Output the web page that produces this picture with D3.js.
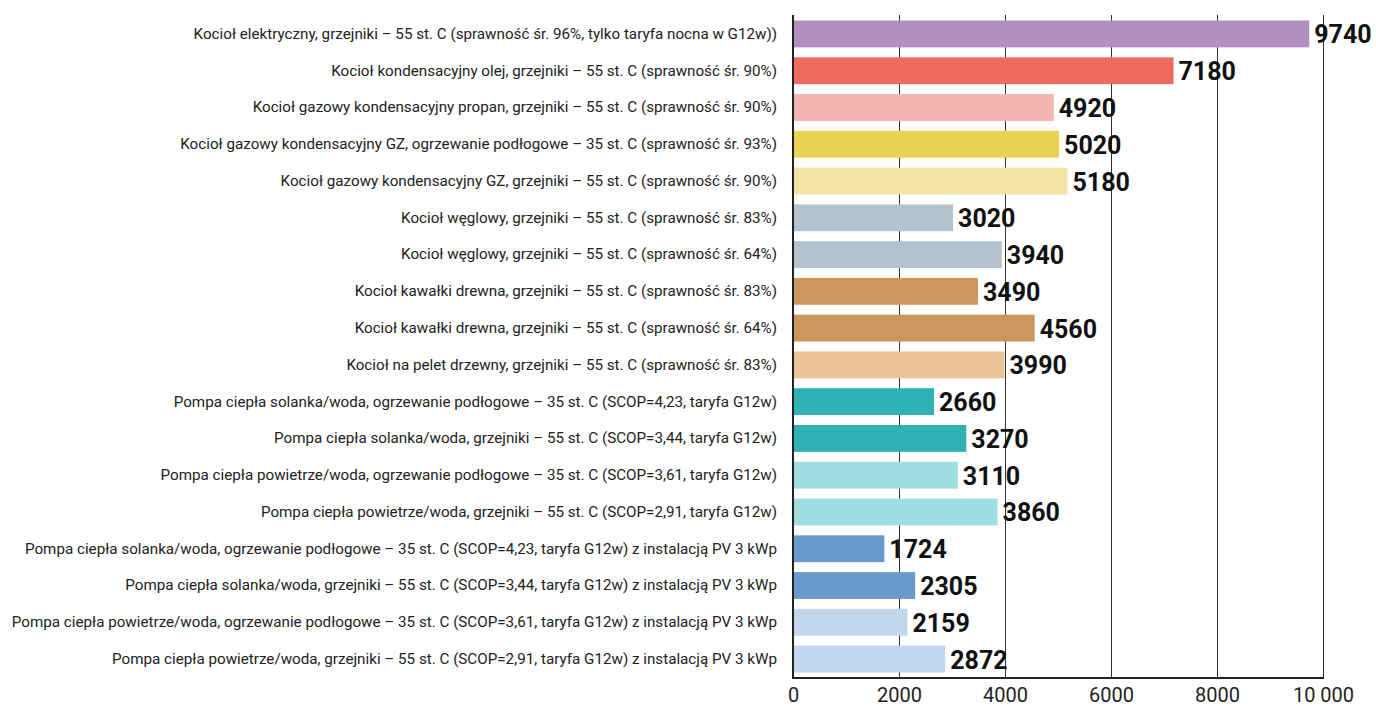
<!DOCTYPE html>
<html>
<head>
<meta charset="utf-8">
<script src="https://cdn.jsdelivr.net/npm/d3@7"></script>
<style>
  html, body { margin: 0; padding: 0; background: #fff; }
  svg { display: block; font-family: Roboto, "Noto Sans", sans-serif; }
</style>
</head>
<body>
<svg id="chart" width="1376" height="706"></svg>
<script>
// Annual heating cost by heat source (PLN)
const categories = [
  "Kocioł elektryczny, grzejniki – 55 st. C (sprawność śr. 96%, tylko taryfa nocna w G12w))",
  "Kocioł kondensacyjny olej, grzejniki – 55 st. C (sprawność śr. 90%)",
  "Kocioł gazowy kondensacyjny propan, grzejniki – 55 st. C (sprawność śr. 90%)",
  "Kocioł gazowy kondensacyjny GZ, ogrzewanie podłogowe – 35 st. C (sprawność śr. 93%)",
  "Kocioł gazowy kondensacyjny GZ, grzejniki – 55 st. C (sprawność śr. 90%)",
  "Kocioł węglowy, grzejniki – 55 st. C (sprawność śr. 83%)",
  "Kocioł węglowy, grzejniki – 55 st. C (sprawność śr. 64%)",
  "Kocioł kawałki drewna, grzejniki – 55 st. C (sprawność śr. 83%)",
  "Kocioł kawałki drewna, grzejniki – 55 st. C (sprawność śr. 64%)",
  "Kocioł na pelet drzewny, grzejniki – 55 st. C (sprawność śr. 83%)",
  "Pompa ciepła solanka/woda, ogrzewanie podłogowe – 35 st. C (SCOP=4,23, taryfa G12w)",
  "Pompa ciepła solanka/woda, grzejniki – 55 st. C (SCOP=3,44, taryfa G12w)",
  "Pompa ciepła powietrze/woda, ogrzewanie podłogowe – 35 st. C (SCOP=3,61, taryfa G12w)",
  "Pompa ciepła powietrze/woda, grzejniki – 55 st. C (SCOP=2,91, taryfa G12w)",
  "Pompa ciepła solanka/woda, ogrzewanie podłogowe – 35 st. C (SCOP=4,23, taryfa G12w) z instalacją PV 3 kWp",
  "Pompa ciepła solanka/woda, grzejniki – 55 st. C (SCOP=3,44, taryfa G12w) z instalacją PV 3 kWp",
  "Pompa ciepła powietrze/woda, ogrzewanie podłogowe – 35 st. C (SCOP=3,61, taryfa G12w) z instalacją PV 3 kWp",
  "Pompa ciepła powietrze/woda, grzejniki – 55 st. C (SCOP=2,91, taryfa G12w) z instalacją PV 3 kWp"
];

const costs = [9740, 7180, 4920, 5020, 5180, 3020, 3940, 3490, 4560, 3990,
               2660, 3270, 3110, 3860, 1724, 2305, 2159, 2872];

const barColors = [
  "#b38ec0", "#ef6a5f", "#f4b5b1", "#ead353", "#f2e5a4",
  "#b3c2cc", "#b3c2cc", "#cd965c", "#cd965c", "#eac497",
  "#30b2b5", "#30b2b5", "#a1dee1", "#a1dee1",
  "#6a9acd", "#6a9acd", "#c2d6ee", "#c2d6ee"
];

const xTicks = [0, 2000, 4000, 6000, 8000, 10000];
const xTickLabels = ["0", "2000", "4000", "6000", "8000", "10 000"];

const data = categories.map((c, i) => ({ name: c, value: costs[i], color: barColors[i] }));

const svg = d3.select("#chart");
const plotLeft = 793, plotRight = 1323, plotTop = 15, plotBottom = 678;

const x = d3.scaleLinear().domain([0, 10000]).range([plotLeft, plotRight]);
const y = d3.scaleBand().domain(categories).range([plotTop, plotBottom])
  .paddingInner(0.27).paddingOuter(0.15);

// vertical gridlines
svg.append("g")
  .selectAll("line")
  .data(xTicks.slice(1))
  .join("line")
  .attr("x1", d => Math.round(x(d)) + 0.5)
  .attr("x2", d => Math.round(x(d)) + 0.5)
  .attr("y1", plotTop)
  .attr("y2", plotBottom)
  .attr("stroke", "#333")
  .attr("stroke-width", 1);

// bars
svg.append("g")
  .selectAll("rect")
  .data(data)
  .join("rect")
  .attr("x", x(0))
  .attr("y", d => y(d.name))
  .attr("width", d => x(d.value) - x(0))
  .attr("height", y.bandwidth())
  .attr("fill", d => d.color);

// value labels
svg.append("g")
  .selectAll("text")
  .data(data)
  .join("text")
  .attr("x", d => x(d.value) + 5)
  .attr("y", d => y(d.name) + y.bandwidth() / 2)
  .attr("dy", "0.38em")
  .attr("font-size", 25)
  .attr("font-weight", 700)
  .attr("fill", "#111")
  .text(d => d.value);

// category axis
const yAxis = svg.append("g")
  .attr("transform", `translate(${plotLeft},0)`)
  .call(d3.axisLeft(y).tickSize(0).tickPadding(16));
yAxis.select(".domain").remove();
yAxis.selectAll("text")
  .attr("font-size", 15.2)
  .attr("font-family", "Roboto, sans-serif")
  .attr("fill", "#222");

// value axis
const xAxis = svg.append("g")
  .attr("transform", `translate(0,${plotBottom})`)
  .call(d3.axisBottom(x).tickValues(xTicks).tickSize(0).tickPadding(10)
    .tickFormat((d, i) => xTickLabels[i]));
xAxis.select(".domain").remove();
xAxis.selectAll("text")
  .attr("font-size", 20)
  .attr("font-family", "Roboto, sans-serif")
  .attr("fill", "#222");

// axis lines
svg.append("line")
  .attr("x1", plotLeft).attr("x2", plotLeft)
  .attr("y1", plotTop).attr("y2", plotBottom + 1)
  .attr("stroke", "#222").attr("stroke-width", 2);
svg.append("line")
  .attr("x1", plotLeft - 1).attr("x2", plotRight + 1)
  .attr("y1", plotBottom).attr("y2", plotBottom)
  .attr("stroke", "#222").attr("stroke-width", 2);
</script>
</body>
</html>
